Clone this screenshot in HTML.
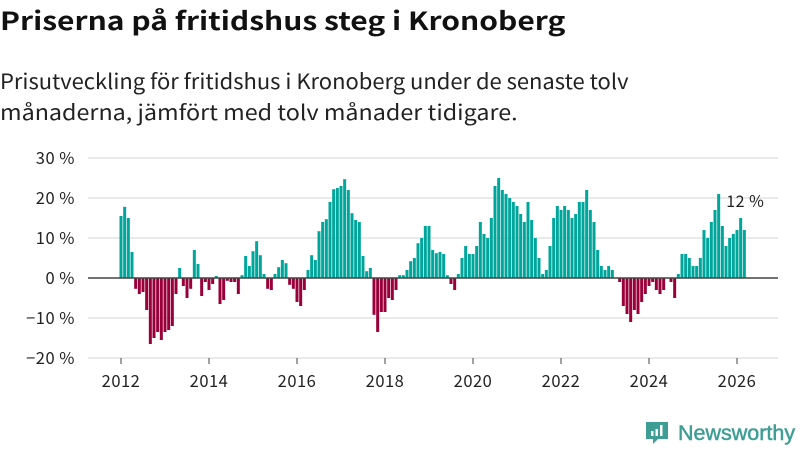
<!DOCTYPE html>
<html><head><meta charset="utf-8"><style>
body{margin:0;width:800px;height:450px;background:#fff;overflow:hidden;font-family:"Noto Sans CJK JP","Liberation Sans",sans-serif;color:#111}
#title{position:absolute;left:0;top:0;font-size:25px;font-weight:bold;line-height:40px;white-space:nowrap;transform:scaleX(1.2);transform-origin:0 0}
.sub{position:absolute;left:0;font-size:21px;line-height:31px;color:#222;white-space:nowrap;transform-origin:0 0}
svg{position:absolute;left:0;top:0}
</style></head><body>
<div id="title">Priserna på fritidshus steg i Kronoberg</div>
<div class="sub" style="top:66px;transform:scaleX(1.045)">Prisutveckling för fritidshus i Kronoberg under de senaste tolv</div>
<div class="sub" style="top:97px;transform:scaleX(1.11)">månaderna, jämfört med tolv månader tidigare.</div>
<svg id="chart" width="800" height="450"></svg>
<script>
const values=[15.5,17.8,15,6.5,-2.7,-4,-3.5,-8,-16.5,-15,-13.5,-15.5,-13.5,-13,-12,-4,2.5,-2,-5,-2.7,7,3.5,-4.5,-1,-3,-1.5,0.5,-6.5,-5.5,-0.7,-1,-1,-4,0.7,5.5,3,6.7,9.2,5.7,1,-2.7,-3,1,2.7,4.5,3.7,-1.7,-2.7,-6,-7,-3,2,5.7,4.5,11.7,14,14.7,19,22.2,22.5,23,24.7,22,16.2,14.5,14,5.5,1.7,2.5,-9.2,-13.5,-8.5,-8.5,-5,-5.5,-3,0.7,0.7,2,4.2,5,8.7,10,13,13,7,6.2,6.5,6,0.7,-1.5,-3,1,5,8,6,6,8,14,11,10,15,23,25,22,21,20,19,18,16,14,19,14.5,10,5,1,2,8,15,18,17,18,17,15,16,19,19,22,17,14,7,3,2,3,2,0,-1,-7,-9,-11,-8,-9,-6,-4,-2,-1,-3,-4,-3,0,-1,-5,1,6,6,5,3,3,5,12,10,14,17,21,13,8,10,11,12,15,12];
const startYear=2012, startMonth=0;
const yTicks=[30,20,10,0,-10,-20];
const yTickLabels=["30 %","20 %","10 %","0 %","−10 %","−20 %"];
const xTicks=[2012,2014,2016,2018,2020,2022,2024,2026];
const lastLabel="12 %";
const svg=document.getElementById('chart');const NS='http://www.w3.org/2000/svg';
const FF='"Noto Sans CJK JP","Liberation Sans",sans-serif';
const y=v=>278-v*4;
const xm=i=>121+(startMonth+i)*44/12;
const xy=yr=>121+(yr-startYear)*44;
function mk(t,a){const e=document.createElementNS(NS,t);for(const k in a)e.setAttribute(k,a[k]);svg.appendChild(e);return e;}
yTicks.forEach((t,i)=>{
 if(t!==0){const g=mk('line',{x1:88,x2:778,y1:y(t),y2:y(t),stroke:'#e3e3e3','stroke-width':1.5});
 
 }
 const l=mk('text',{x:75,y:y(t)+6,'text-anchor':'end','font-size':16.5,fill:'#222','font-family':FF,'letter-spacing':'0.5'});
 l.textContent=yTickLabels[i];
 
 
});
values.forEach((v,i)=>{
 const x=xm(i);const r=mk('rect',{x:x-1.5,width:3,y:v>=0?y(v):y(0),height:Math.abs(v)*4,fill:v>=0?'#00a59b':'#99003a'});
 
 
});
const z=mk('line',{x1:88,x2:778,y1:y(0),y2:y(0),stroke:'#444','stroke-width':1.5});


xTicks.forEach(t=>{
 const tk=mk('line',{x1:xy(t),x2:xy(t),y1:358,y2:364,stroke:'#444','stroke-width':1});
 
 
 const l=mk('text',{x:xy(t),y:387,'text-anchor':'middle','font-size':16.5,fill:'#222','font-family':FF,'letter-spacing':'0.5'});
 l.textContent=t;
 
 
});
const ll=mk('text',{x:xm(values.length-1)+1,y:y(values[values.length-1])-23,'text-anchor':'middle','font-size':16,fill:'#222','font-family':FF,'letter-spacing':'0.5'});
ll.textContent=lastLabel;


</script>
<div style="position:absolute;left:645px;top:419px;height:28px;display:flex;align-items:center">
<svg width="24" height="26" style="position:static"><path d="M1 2h22v17h-10l-5 5v-5H1z" fill="#3e9e95"/><rect x="6" y="11" width="2.5" height="5" fill="#fff"/><rect x="10.5" y="9" width="2.5" height="7" fill="#fff"/><rect x="15" y="5" width="2.5" height="11" fill="#fff"/></svg>
<span style="font-size:21.5px;color:#3e9e95;margin-left:9px;font-family:'Liberation Sans',sans-serif;-webkit-text-stroke:0.5px #3e9e95">Newsworthy</span></div>
</body></html>
